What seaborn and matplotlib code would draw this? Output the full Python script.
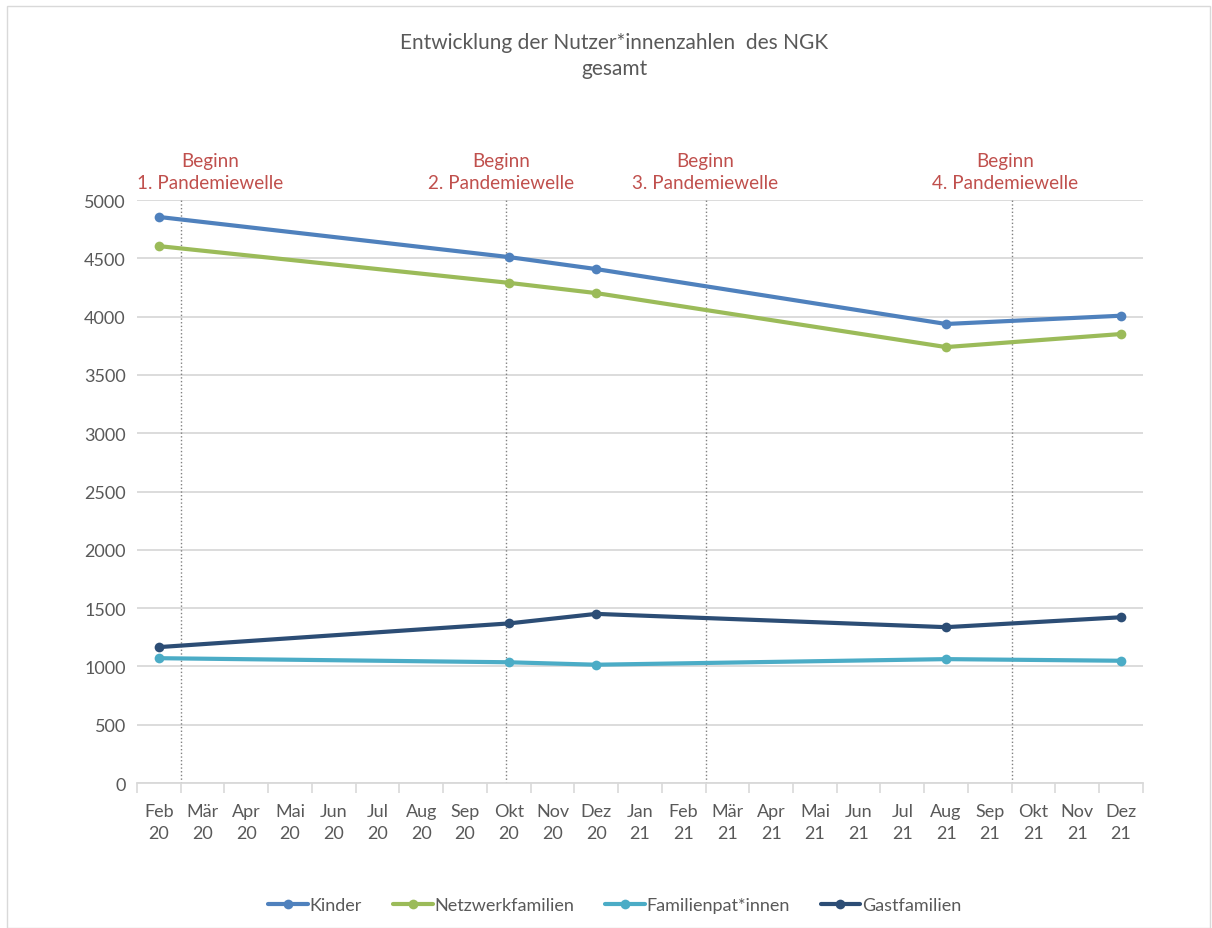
import numpy as np
import pandas as pd
import matplotlib
matplotlib.use('Agg')
import matplotlib.pyplot as plt
import seaborn as sns
from matplotlib.patches import Rectangle

sns.set_theme(style='white')
plt.rcParams['font.family'] = ['Lato', 'DejaVu Sans']

# Monate auf der x-Achse
monate = ['Feb\n20', 'Mär\n20', 'Apr\n20', 'Mai\n20', 'Jun\n20', 'Jul\n20', 'Aug\n20', 'Sep\n20',
          'Okt\n20', 'Nov\n20', 'Dez\n20', 'Jan\n21', 'Feb\n21', 'Mär\n21', 'Apr\n21', 'Mai\n21',
          'Jun\n21', 'Jul\n21', 'Aug\n21', 'Sep\n21', 'Okt\n21', 'Nov\n21', 'Dez\n21']

# Erhebungszeitpunkte
messungen = ['Feb\n20', 'Okt\n20', 'Dez\n20', 'Aug\n21', 'Dez\n21']
kinder = [4855, 4511, 4408, 3937, 4008]
netzwerkfamilien = [4605, 4290, 4202, 3739, 3851]
familienpaten = [1071, 1036, 1015, 1063, 1049]
gastfamilien = [1166, 1369, 1451, 1337, 1422]

serien = {'Kinder': kinder, 'Netzwerkfamilien': netzwerkfamilien,
          'Familienpat*innen': familienpaten, 'Gastfamilien': gastfamilien}
farben = {'Kinder': '#4F81BD', 'Netzwerkfamilien': '#9BBB59',
          'Familienpat*innen': '#4BACC6', 'Gastfamilien': '#2C4D75'}

# Pandemiewellen (Position der Linie, Position des Textes)
wellen = ['Beginn\n1. Pandemiewelle', 'Beginn\n2. Pandemiewelle',
          'Beginn\n3. Pandemiewelle', 'Beginn\n4. Pandemiewelle']
wellen_linie = [0.5, 7.93, 12.5, 19.5]
wellen_text = [1.17, 7.82, 12.5, 19.35]

rows = []
for name, werte in serien.items():
    for m, v in zip(messungen, werte):
        rows.append({'pos': monate.index(m), 'wert': v, 'serie': name})
df = pd.DataFrame(rows)

fig = plt.figure(figsize=(12.12, 9.29), dpi=100)
ax = fig.add_axes([0.113, 0.156, 0.830, 0.6276])

ax.set_yticks(np.arange(0, 5001, 500))
ax.yaxis.grid(True, color='#D9D9D9', linewidth=1.3)
ax.set_axisbelow(True)

for xl in wellen_linie:
    ax.axvline(xl, color='#808080', linestyle=':', linewidth=1.0, zorder=1)

sns.lineplot(data=df, x='pos', y='wert', hue='serie', palette=farben,
             marker='o', markersize=7, markeredgewidth=0, linewidth=3,
             ax=ax, zorder=3)

ax.set_xlim(-0.5, len(monate) - 0.5)
ax.set_ylim(0, 5000)
ax.set_xticks(range(len(monate)))
ax.set_xticklabels(monate, fontsize=13, color='#595959', linespacing=1.5)
ax.set_xticks(np.arange(-0.5, len(monate)), minor=True)
ax.tick_params(axis='x', which='major', length=0, pad=14)
ax.tick_params(axis='x', which='minor', length=7, width=1.2, color='#D9D9D9', bottom=True)
ax.tick_params(axis='y', length=0, labelsize=13, labelcolor='#595959', pad=8)
ax.set_xlabel('')
ax.set_ylabel('')
for s in ['top', 'right', 'left']:
    ax.spines[s].set_visible(False)
ax.spines['bottom'].set_color('#D9D9D9')
ax.spines['bottom'].set_linewidth(1.3)

for txt, xt in zip(wellen, wellen_text):
    ax.text(xt, 5245, txt, ha='center', va='center', fontsize=13.6,
            color='#C0504D', linespacing=1.4, clip_on=False)

fig.text(0.507, 0.940, 'Entwicklung der Nutzer*innenzahlen  des NGK\ngesamt',
         ha='center', va='center', fontsize=15, color='#595959', linespacing=1.35)

handles, labels = ax.get_legend_handles_labels()
ax.legend(handles, labels, loc='center', bbox_to_anchor=(0.475, -0.209), ncol=4,
          frameon=False, fontsize=13, handlelength=2.2, handletextpad=0.1,
          columnspacing=1.7, labelcolor='#595959')

fig.patches.append(Rectangle((0.006, 0.0), 0.992, 0.992, transform=fig.transFigure,
                             fill=False, edgecolor='#D9D9D9', linewidth=1.0))

fig.savefig('out.png', dpi=100)
